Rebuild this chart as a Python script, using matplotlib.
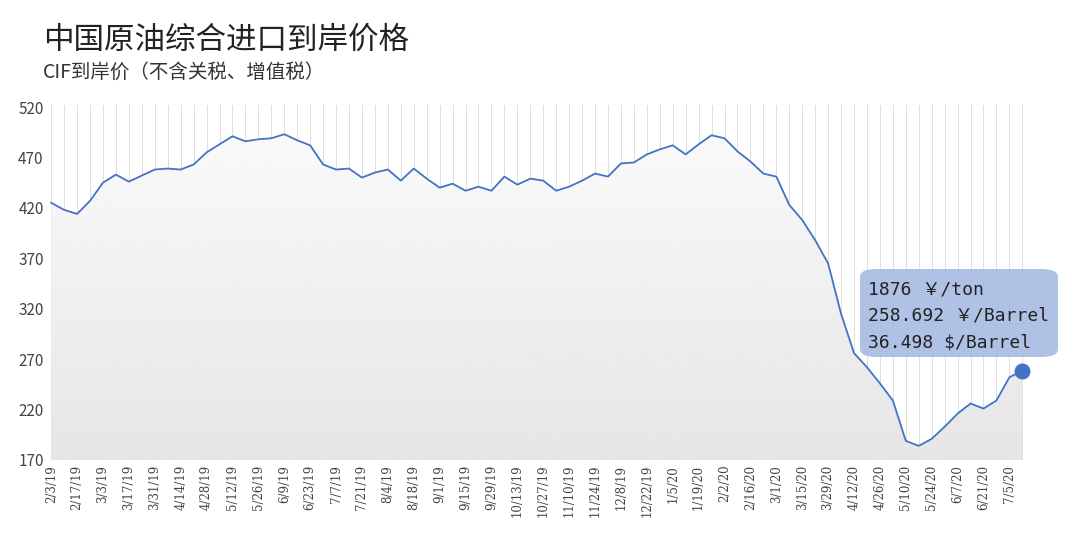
import numpy as np
import pandas as pd
import matplotlib.pyplot as plt
from matplotlib.patches import FancyBboxPatch

plt.rcParams['font.family'] = ['Noto Sans CJK SC', 'DejaVu Sans']

# 周度CIF到岸价 (元/吨 /10 刻度)
dates = pd.date_range('2019-02-03', periods=76, freq='7D')
labels = [f"{d.month}/{d.day}/{d.year % 100}" for d in dates]
prices = [425, 418, 414, 427, 445, 453, 446, 452, 458, 459, 458, 463, 475, 483,
          491, 486, 488, 489, 493, 487, 482, 463, 458, 459, 450, 455, 458, 447,
          459, 449, 440, 444, 437, 441, 437, 451, 443, 449, 447, 437, 441, 447,
          454, 451, 464, 465, 473, 478, 482, 473, 483, 492, 489, 476, 466, 454,
          451, 423, 408, 388, 365, 315, 276, 262, 246, 229, 189, 184, 191, 203,
          216, 226, 221, 229, 252, 258.7]

x = np.arange(len(prices))
fig = plt.figure(figsize=(10.8, 5.38), dpi=100)
ax = fig.add_axes([0.045, 1 - 460 / 538, 0.91, 355 / 538])

# 背景竖线
for xi in x:
    ax.axvline(xi, color='#d9d9d9', lw=0.6, zorder=0)

# 渐变填充 (底部浅灰, 顶部近白)
grad = np.linspace(0.985, 0.9, 256).reshape(-1, 1)
im = ax.imshow(grad, cmap='gray', vmin=0, vmax=1, aspect='auto',
               extent=[x[0], x[-1], 170, 522], origin='upper', zorder=1)
poly = ax.fill_between(x, prices, 170, color='none')
im.set_clip_path(poly.get_paths()[0], transform=ax.transData)

ax.plot(x, prices, color='#4472c4', lw=1.3, zorder=3)
ax.scatter([x[-1]], [prices[-1]], s=110, color='#4472c4', zorder=4)

ax.set_xlim(-0.2, len(x) - 0.3)
ax.set_ylim(170, 522)
ax.set_yticks(range(170, 521, 50))
ax.set_xticks(x[::2])
ax.set_xticklabels(labels[::2], rotation=90, fontsize=8.5, family='DejaVu Serif')
ax.tick_params(axis='y', labelsize=11, length=0, labelcolor='#444444')
ax.tick_params(axis='x', length=0, labelcolor='#444444')
for s in ax.spines.values():
    s.set_visible(False)

fig.text(0.04, 0.91, '中国原油综合进口到岸价格', fontsize=22, color='#222222')
fig.text(0.04, 0.855, 'CIF到岸价（不含关税、增值税）', fontsize=14, color='#333333')

# 提示框
box = FancyBboxPatch((860 / 1080, 1 - 357 / 538), 198 / 1080, 88 / 538,
                     boxstyle='round,pad=0,rounding_size=0.015',
                     transform=fig.transFigure, facecolor='#a8bbe4',
                     edgecolor='none', alpha=0.9, zorder=5)
fig.patches.append(box)
for i, t in enumerate(['1876 ￥/ton', '258.692 ￥/Barrel', '36.498 $/Barrel']):
    fig.text(868 / 1080, 1 - (290 + i * 26) / 538, t, fontsize=13,
             family=['DejaVu Sans Mono', 'Noto Sans CJK SC'], color='#222222',
             va='center', zorder=10)

fig.savefig('out.png')
